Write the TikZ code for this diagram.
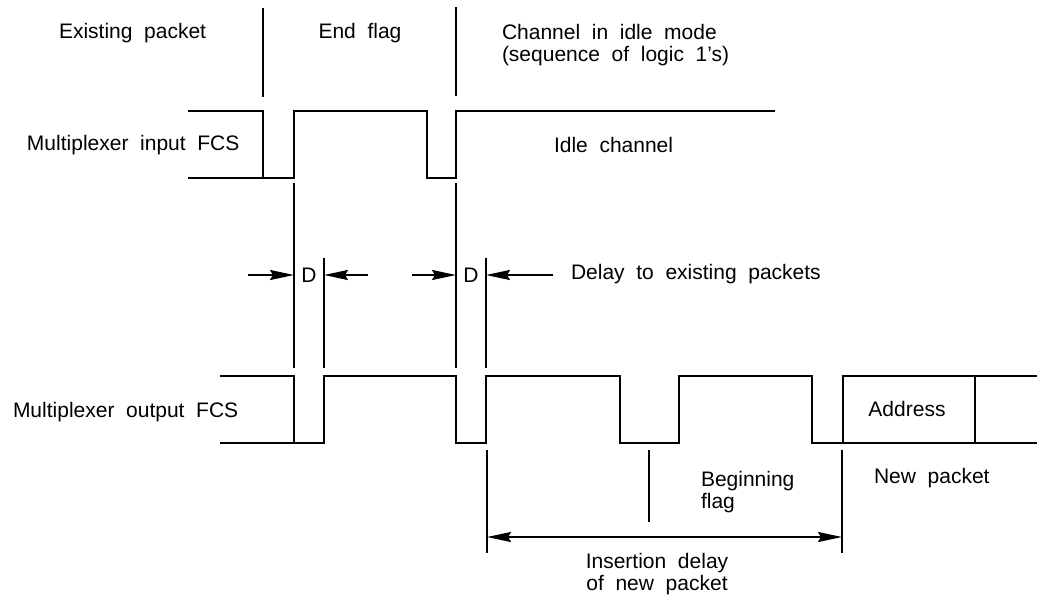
\documentclass[tikz,border=0pt]{standalone}
\usepackage{fontspec}
\setmainfont{Liberation Sans}[WordSpace=2]
\usetikzlibrary{arrows.meta}
\begin{document}
\begin{tikzpicture}[x=1pt,y=-1pt,line width=2pt,
    every node/.style={font=\fontsize{21}{22}\selectfont,inner sep=0pt},
    >={Stealth[length=24pt,width=10pt,inset=3pt]}]
\useasboundingbox (0,0) rectangle (1037,598);

% headings
\node (existing) [anchor=west] at (58,33) {Existing packet};
\node (endflag) at (360,33) {End flag};
\node (idlemode) [anchor=west,align=left] at (501,45)
    {Channel in idle mode\\(sequence of logic 1's)};
\draw (263,8) -- (263,97);
\draw (456,7) -- (456,96);

% multiplexer input
\node (inlabel) [anchor=west] at (26,145) {Multiplexer input FCS};
\node (idle) [anchor=west] at (553,145) {Idle channel};
\draw (188,111) -- (263,111) -- (263,178);
\draw (188,178) -- (294,178) -- (294,111) -- (427,111) -- (427,178)
    -- (456,178) -- (456,111) -- (775,111);

% delay D
\draw (294,183) -- (294,368);
\draw (324,258) -- (324,368);
\draw (456,183) -- (456,368);
\draw (486,258) -- (486,368);
\node (d1) at (309,275) {D};
\node (d2) at (471,275) {D};
\coordinate (a1) at (248,275);
\coordinate (a2) at (368,275);
\coordinate (a3) at (412,275);
\coordinate (a4) at (553,275);
\draw[->] (a1) -- (d1.west -| 294,0);
\draw[->] (a2) -- (d1.east -| 324,0);
\draw[->] (a3) -- (d2.west -| 456,0);
\draw[->] (a4) -- (d2.east -| 486,0);
\node (delay) [anchor=west] at (570,274) {Delay to existing packets};

% multiplexer output
\node (outlabel) [anchor=west] at (12,412) {Multiplexer output FCS};
\draw (220,376) -- (294,376) -- (294,443);
\draw (220,443) -- (324,443) -- (324,376) -- (456,376) -- (456,443)
    -- (486,443) -- (486,376) -- (620,376) -- (620,443) -- (679,443)
    -- (679,376) -- (812,376) -- (812,443) -- (1037,443);
\draw (1037,376) -- (843,376) -- (843,443);
\draw (975,376) -- (975,443);
\node (address) at (907,409) {Address};

% insertion delay
\draw (487,450) -- (487,553);
\draw (649,450) -- (649,522);
\draw (842,450) -- (842,553);
\coordinate (ins1) at (487,537);
\coordinate (ins2) at (842,537);
\draw[<->] (ins1) -- (ins2);
\node (beginflag) [anchor=west,align=left] at (700,492) {Beginning\\flag};
\node (newpacket) [anchor=west] at (873,478) {New packet};
\node (insdelay) [align=center] at (657,574) {Insertion delay\\of new packet};
\end{tikzpicture}
\end{document}
